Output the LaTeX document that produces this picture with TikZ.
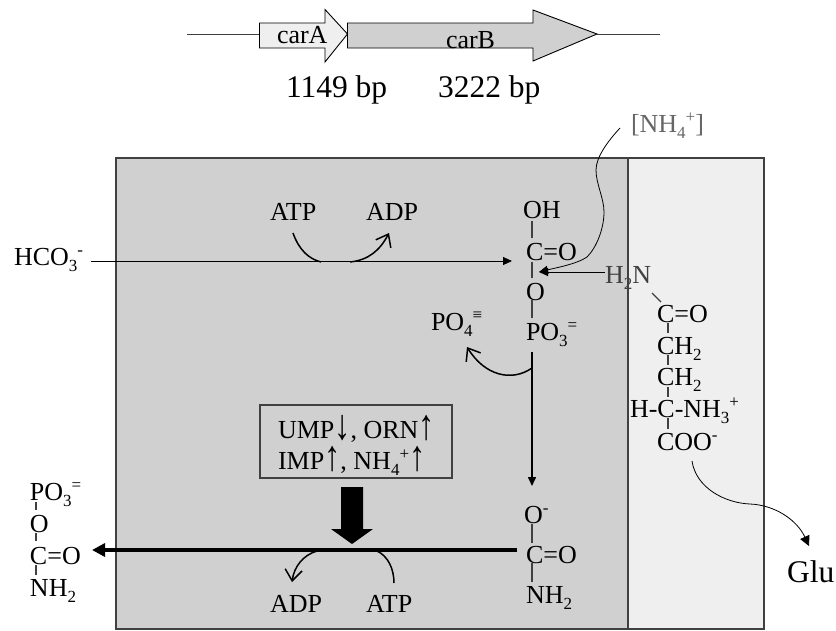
\documentclass[tikz,border=0pt]{standalone}
\usepackage{fontspec}
\usepackage{graphicx}
\setmainfont{Liberation Serif}
\usetikzlibrary{arrows.meta}
\definecolor{cellgray}{HTML}{D0D0D0}
\definecolor{lightgray}{HTML}{EFEFEF}
\definecolor{edgegray}{HTML}{404040}
\newcommand{\dn}[1]{\smash{\raisebox{-6.5pt}{\fontsize{17}{17}\selectfont #1}}}
\newcommand{\up}[1]{\smash{\raisebox{10pt}{\fontsize{17}{17}\selectfont #1}}}
\newcommand{\arrU}{\smash{\raisebox{-1pt}{\scalebox{1.25}[1.65]{↑}}}}
\newcommand{\arrD}{\smash{\raisebox{-1pt}{\scalebox{1.25}[1.65]{↓}}}}
\tikzset{
  x=1pt,y=-1pt,
  lab/.style={anchor=base west,inner sep=0pt,outer sep=0pt,font=\fontsize{26}{28}\selectfont,text=black},
  big/.style={lab,font=\fontsize{31.5}{33}\selectfont},
  graylab/.style={lab,text=edgegray},
  bond/.style={draw=edgegray,line width=1.2pt},
  thin arrow/.style={draw=black,line width=.9pt,-{Triangle[length=9pt,width=8pt]}},
  curve/.style={draw=black,line width=1pt},
  open arrow/.style={draw=black,line width=1.5pt,-{Straight Barb[length=11pt,width=17pt]}},
}
\begin{document}
\begin{tikzpicture}
\useasboundingbox (0,0) rectangle (836,630);
% compartments
\draw[edgegray,line width=1.5pt,fill=cellgray] (116,158) rectangle (628,629);
\draw[edgegray,line width=1.5pt,fill=lightgray] (628,158) rectangle (764,629);
% genes
\coordinate (gl) at (187,34);
\coordinate (gr) at (660,34);
\draw[edgegray,line width=1pt] (gl) -- (260,34);
\draw[edgegray,line width=1pt] (597,34) -- (gr);
\draw[black,line width=.9pt,fill=lightgray] (259.5,23) -- (325,23) -- (325,9.5) -- (347.5,34) -- (325,62) -- (325,48) -- (259.5,48) -- cycle;
\draw[black,line width=.9pt,fill=cellgray] (347.5,23) -- (533,23) -- (533,10) -- (597,34) -- (533,61) -- (533,48) -- (347.5,48) -- cycle;
\node[lab] (cara) at (277,43) {carA};
\node[lab] (carb) at (446,48) {carB};
\node[big] (la) at (286,97) {1149 bp};
\node[big] (lb) at (438,97) {3222 bp};
% upper reaction
\node[lab] (hco) at (14,265) {HCO\dn{3}\up{-}};
\node[lab] (atpa) at (270,220) {ATP};
\node[lab] (adpa) at (366,220) {ADP};
\coordinate (hcoe) at (91,261);
\coordinate (acid) at (512,261);
\draw[thin arrow] (hcoe) -- (acid);
\coordinate (atpae) at (293,233);
\coordinate (atpaf) at (321,262);
\draw[curve,line width=1.5pt] (atpae) .. controls (299,250) and (309,259) .. (atpaf);
\coordinate (adpas) at (350,262);
\coordinate (adpae) at (389,233);
\draw[open arrow] (adpas) .. controls (369,260) and (380,250) .. (adpae);
% acyl phosphate
\node[lab] (oh) at (523,218) {OH};
\node[lab] (co1) at (526,260) {C=O};
\node[lab] (o1) at (526,300) {O};
\node[lab] (po3) at (526,340) {PO\dn{3}\up{=}};
\coordinate (b1a) at (532,221); \coordinate (b1b) at (532,238);
\coordinate (b2a) at (532,262); \coordinate (b2b) at (532,278);
\coordinate (b3a) at (532,300); \coordinate (b3b) at (532,318);
\draw[bond] (b1a) -- (b1b);
\draw[bond] (b2a) -- (b2b);
\draw[bond] (b3a) -- (b3b);
% ammonia
\node[graylab,text=edgegray!80] (nh4) at (631,132) {[NH\dn{4}\up{+}]};
\coordinate (nhs) at (620,128);
\coordinate (attack) at (539,272);
\draw[curve,line width=.8pt,-{Triangle[length=9pt,width=8pt]}] (nhs) .. controls (608,141) and (596,157) .. (596,170) .. controls (596,184) and (604,198) .. (604,212) .. controls (604,228) and (597,247) .. (587,257) .. controls (577,264) and (555,268) .. (attack);
\node[graylab] (h2n) at (605,283) {H\dn{2}N};
\coordinate (h2ne) at (605,272);
\draw[thin arrow] (h2ne) -- (attack);
% glutamine
\node[lab] (co2) at (657,322) {C=O};
\node[lab] (ch1) at (657,354) {CH\dn{2}};
\node[lab] (ch2) at (657,385) {CH\dn{2}};
\node[lab] (hc) at (630,417) {H-C-NH\dn{3}\up{+}};
\node[lab] (coo) at (657,450) {COO\up{-}};
\coordinate (n1) at (652,293); \coordinate (n2) at (661,302);
\draw[bond] (n1) -- (n2);
\foreach \i/\ya/\yb in {a/323/333,b/355/365,c/387/397,d/418/429}{
  \coordinate (q\i a) at (668,\ya); \coordinate (q\i b) at (668,\yb);
  \draw[bond] (q\i a) -- (q\i b);
}
\coordinate (cooe) at (692,461);
\node[big] (glu) at (787,582) {Glu};
\coordinate (glut) at (809,546);
\draw[curve,line width=.8pt,-{Triangle[length=10pt,width=10pt]}] (cooe) .. controls (696,488) and (725,503) .. (750,504) .. controls (775,505) and (797,520) .. (glut);
% phosphate release
\node[lab] (po4) at (431,330) {PO\dn{4}\up{≡}};
\coordinate (vs) at (532,352);
\coordinate (vm) at (532,368);
\coordinate (ve) at (532,486);
\draw[thin arrow,line width=1.5pt] (vs) -- (ve);
\coordinate (po4t) at (467,347);
\draw[open arrow] (vm) .. controls (512,382) and (485,376) .. (po4t);
% carbamate
\node[lab] (om) at (524,523) {O\up{-}};
\node[lab] (co3) at (526,563) {C=O};
\node[lab] (nh2) at (526,603) {NH\dn{2}};
\coordinate (c1a) at (532,524); \coordinate (c1b) at (532,543);
\coordinate (c2a) at (532,563); \coordinate (c2b) at (532,582);
\draw[bond] (c1a) -- (c1b);
\draw[bond] (c2a) -- (c2b);
% regulators
\node[draw=edgegray,line width=1.1pt,fill=cellgray,minimum width=192pt,minimum height=73pt,inner sep=0pt] (reg) at (356,441.5) {};
\node[lab] (rega) at (278,438) {UMP\arrD, ORN\arrU};
\node[lab] (regb) at (278,469) {IMP\arrU, NH\dn{4}\up{+}\arrU};
\fill[black] (341,487) -- (363,487) -- (363,529) -- (373,529) -- (352,544) -- (331,529) -- (341,529) -- cycle;
% lower reaction
\coordinate (cps) at (517,550);
\coordinate (cpt) at (92,550);
\draw[black,line width=3.5pt,-{Triangle[length=13pt,width=13pt]}] (cps) -- (cpt);
\node[lab] (adpb) at (270,612) {ADP};
\node[lab] (atpb) at (366,612) {ATP};
\coordinate (adpbs) at (317,551);
\coordinate (adpbt) at (292,582);
\draw[open arrow] (adpbs) .. controls (303,555) and (294,567) .. (adpbt);
\coordinate (atpbs) at (377,551);
\coordinate (atpbe) at (394,583);
\draw[curve,line width=1.5pt] (atpbs) .. controls (388,556) and (394,569) .. (atpbe);
% carbamoyl phosphate
\node[lab] (po3b) at (30,500) {PO\dn{3}\up{=}};
\node[lab] (o3) at (30,532) {O};
\node[lab] (co4) at (30,564) {C=O};
\node[lab] (nh2b) at (30,596) {NH\dn{2}};
\foreach \i/\ya/\yb in {a/502/510,b/533/541,c/565/575}{
  \coordinate (p\i a) at (36,\ya); \coordinate (p\i b) at (36,\yb);
  \draw[bond] (p\i a) -- (p\i b);
}
\end{tikzpicture}
\end{document}
